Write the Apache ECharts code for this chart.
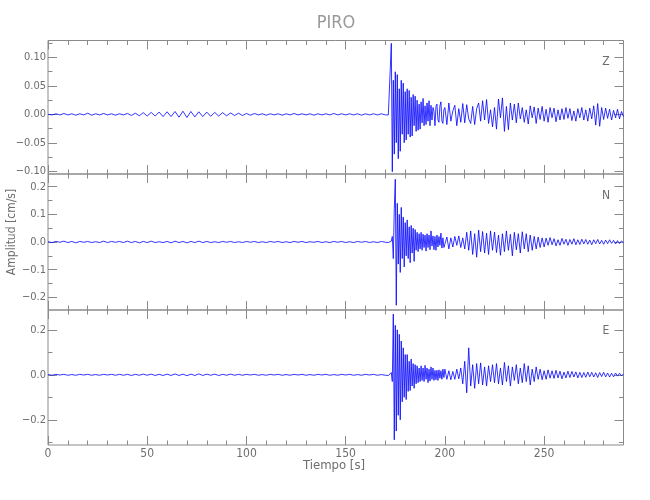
<!DOCTYPE html>
<html><head><meta charset="utf-8">
<script src="https://cdn.jsdelivr.net/npm/echarts@6/dist/echarts.min.js"></script>
<style>html,body{margin:0;padding:0;background:#fff}#c{width:650px;height:500px}</style>
</head><body><div id="c"></div><script>
// ---- data ----
const stationName = 'PIRO';
const channelNames = ['Z', 'N', 'E'];
// sampling grid: pre-event every 2 s (0..170), burst every 0.5 s (171..199.5), coda every 1 s (200..290)
const preStart = 0, preStep = 2, midStart = 171, midStep = 0.5, postStart = 200, postStep = 1;

const zPre = [
 0.000,-0.001,0.001,-0.001,0.0015,-0.001,0.001,-0.0015,0.001,-0.001,
 0.002,-0.0015,0.001,-0.001,0.0015,-0.001,0.001,-0.0015,0.001,-0.001,
 0.0015,-0.002,0.002,-0.0025,0.003,-0.003,0.0035,-0.003,0.004,-0.004,
 0.0045,-0.004,0.005,-0.005,0.0055,-0.0055,0.005,-0.0045,0.0045,-0.004,
 0.004,-0.0035,0.0035,-0.003,0.003,-0.0025,0.0025,-0.002,0.002,-0.002,
 0.0015,-0.0015,0.0015,-0.001,0.001,-0.0015,0.001,-0.001,0.001,-0.0015,
 0.001,-0.001,0.0015,-0.001,0.001,-0.001,0.001,-0.0015,0.001,-0.001,
 0.001,-0.001,0.0015,-0.001,0.001,-0.001,0.001,-0.001,0.001,-0.0015,
 0.001,-0.001,0.001,-0.001,0.001,-0.001
];
const zMid = [
 0.001,-0.001,0.002,-0.003,0.125,-0.101,0.06,-0.07,0.075,-0.05,
 0.07,-0.078,0.045,-0.065,0.06,-0.035,0.055,-0.05,0.04,-0.045,
 0.045,-0.035,0.042,-0.04,0.03,-0.038,0.035,-0.02,0.032,-0.03,
 0.025,-0.028,0.018,-0.026,0.022,-0.015,0.028,-0.02,0.015,-0.018,
 0.02,-0.012,0.024,-0.02,0.016,-0.01,0.012,0.005,-0.02,0.014,
 0.018,-0.01,-0.014,0.015,0.022,-0.012,-0.016,0.008
];
const zPost = [
 0.012,
 -0.018,0.02,-0.012,0.006,0.016,-0.02,0.01,-0.014,0.019,-0.015,
 0.017,-0.008,-0.016,0.014,-0.018,0.01,0.02,-0.012,0.024,-0.01,
 0.026,-0.016,0.008,-0.022,0.012,-0.026,0.027,-0.006,0.029,-0.03,
 0.014,-0.027,0.02,-0.01,0.018,-0.015,0.02,-0.008,0.012,-0.014,
 0.008,-0.017,0.015,-0.006,0.013,-0.016,0.011,-0.009,0.014,-0.012,
 0.009,-0.014,0.012,-0.006,0.011,-0.013,0.008,-0.01,0.01,-0.009,
 0.012,-0.007,0.01,-0.011,0.006,-0.012,0.01,-0.006,0.012,-0.01,
 0.008,-0.012,0.011,-0.008,0.015,-0.019,0.019,-0.021,0.012,-0.009,
 0.011,-0.007,0.009,-0.01,0.007,-0.006,0.009,-0.008,0.005,-0.004
];
const nPre = [
 0.001,-0.002,0.002,-0.001,0.003,-0.002,0.002,-0.003,0.002,-0.001,
 0.002,-0.002,0.001,-0.002,0.003,-0.002,0.002,-0.001,0.002,-0.002,
 0.003,-0.002,0.002,-0.003,0.002,-0.002,0.003,-0.002,0.001,-0.002,
 0.002,-0.003,0.003,-0.002,0.002,-0.003,0.002,-0.002,0.003,-0.002,
 0.002,-0.002,0.001,-0.002,0.002,-0.001,0.002,-0.002,0.001,-0.002,
 0.002,-0.001,0.002,-0.002,0.001,-0.002,0.002,-0.001,0.002,-0.002,
 0.001,-0.002,0.002,-0.001,0.002,-0.002,0.001,-0.001,0.002,-0.002,
 0.001,-0.002,0.002,-0.001,0.002,-0.002,0.001,-0.002,0.002,-0.001,
 0.002,-0.002,0.001,-0.002,0.002,-0.001
];
const nMid = [
 0.002,-0.002,0.001,-0.002,0.003,0.02,-0.06,0.12,0.227,-0.229,
 0.14,-0.08,0.1,-0.11,0.125,-0.06,0.09,-0.09,0.07,-0.05,
 0.08,-0.06,0.055,-0.075,0.06,-0.04,0.05,-0.07,0.045,-0.03,
 0.035,-0.035,0.03,-0.025,0.035,-0.03,0.028,-0.02,0.025,-0.033,
 0.03,-0.02,0.025,-0.028,0.04,-0.015,0.022,-0.028,0.02,-0.03,
 0.025,-0.018,0.02,-0.012,0.032,-0.022,0.015,-0.02
];
const nPost = [
 -0.022,
 0.018,-0.025,0.015,-0.018,0.02,-0.012,0.022,-0.02,0.015,-0.025,
 0.035,-0.03,0.04,-0.045,0.03,-0.055,0.043,-0.035,0.038,-0.04,
 0.032,-0.045,0.04,-0.03,0.036,-0.038,0.025,-0.048,0.03,-0.035,
 0.04,-0.03,0.028,-0.05,0.035,-0.028,0.03,-0.04,0.037,-0.025,
 0.03,-0.035,0.025,-0.03,0.02,-0.025,0.018,-0.02,0.015,-0.018,
 0.014,-0.012,0.016,-0.01,0.012,-0.014,0.008,-0.012,0.013,-0.008,
 0.01,-0.012,0.009,-0.008,0.012,-0.01,0.008,-0.009,0.01,-0.007,
 0.009,-0.008,0.007,-0.01,0.008,-0.006,0.009,-0.007,0.006,-0.008,
 0.007,-0.006,0.008,-0.005,0.006,-0.007,0.005,-0.006,0.004,-0.003
];
const ePre = [
 0.001,-0.002,0.002,-0.001,0.002,-0.002,0.001,-0.002,0.002,-0.001,
 0.002,-0.002,0.001,-0.002,0.002,-0.001,0.002,-0.002,0.002,-0.002,
 0.002,-0.003,0.002,-0.002,0.003,-0.002,0.003,-0.003,0.002,-0.003,
 0.003,-0.003,0.004,-0.003,0.003,-0.004,0.003,-0.003,0.004,-0.003,
 0.003,-0.002,0.003,-0.003,0.002,-0.002,0.003,-0.002,0.002,-0.002,
 0.002,-0.001,0.002,-0.002,0.001,-0.002,0.002,-0.001,0.002,-0.002,
 0.001,-0.002,0.002,-0.001,0.002,-0.002,0.001,-0.002,0.002,-0.001,
 0.002,-0.002,0.001,-0.002,0.002,-0.001,0.002,-0.002,0.001,-0.002,
 0.002,-0.001,0.002,-0.002,0.001,-0.002
];
const eMid = [
 0.002,-0.003,0.002,-0.004,0.01,-0.03,0.27,-0.289,0.22,-0.25,
 0.2,-0.18,0.18,-0.2,0.15,-0.12,0.12,-0.1,0.09,-0.11,
 0.09,-0.074,0.06,-0.07,0.07,-0.05,0.05,-0.06,0.045,-0.04,
 0.04,-0.035,0.03,-0.03,0.04,-0.025,0.03,-0.03,0.042,-0.02,
 0.03,-0.035,0.025,-0.028,0.035,-0.02,0.03,-0.025,0.02,-0.022,
 0.02,-0.025,0.022,-0.015,0.018,-0.02,0.025,-0.012
];
const ePost = [
 0.025,
 -0.02,0.018,-0.022,0.015,-0.02,0.025,-0.018,0.03,-0.04,0.06,
 -0.08,0.12,-0.05,0.045,-0.06,0.05,-0.04,0.053,-0.045,0.035,
 -0.05,0.04,-0.03,0.045,-0.035,0.05,-0.04,0.03,-0.045,0.055,
 -0.03,0.04,-0.05,0.035,-0.025,0.045,-0.04,0.03,-0.035,0.05,
 -0.03,0.04,-0.045,0.025,-0.03,0.035,-0.02,0.025,-0.022,0.018,
 -0.02,0.022,-0.015,0.018,-0.016,0.02,-0.014,0.016,-0.018,0.012,
 -0.014,0.016,-0.012,0.015,-0.01,0.013,-0.014,0.011,-0.012,0.01,
 -0.011,0.012,-0.009,0.011,-0.01,0.009,-0.012,0.01,-0.008,0.011,
 -0.009,0.008,-0.01,0.007,-0.009,0.008,-0.006,0.007,-0.005,0.004
];

// axis ranges and tick values
const xMin = 0, xMax = 290, xInterval = 50;
const yRanges = [[-0.105, 0.13], [-0.246, 0.246], [-0.312, 0.288]];
const zTicks = [0.10, 0.05, 0.00, -0.05, -0.10];
const zMinorTicks = [0.125, 0.075, 0.025, -0.025, -0.075];
const nTicks = [0.2, 0.1, 0.0, -0.1, -0.2];
const nMinorTicks = [0.15, 0.05, -0.05, -0.15];
const eTicks = [0.2, 0.0, -0.2];
const eMinorTicks = [0.1, -0.1, -0.3];
const tickDecimals = [2, 1, 1];

// ---- build ----
function toPairs(pre, mid, post) {
  const out = [];
  pre.forEach((v, i) => out.push([preStart + i * preStep, v]));
  mid.forEach((v, i) => out.push([midStart + i * midStep, v]));
  post.forEach((v, i) => out.push([postStart + i * postStep, v]));
  return out;
}
const traces = [toPairs(zPre, zMid, zPost), toPairs(nPre, nMid, nPost), toPairs(ePre, eMid, ePost)];
const majors = [zTicks, nTicks, eTicks];
const minors = [zMinorTicks, nMinorTicks, eMinorTicks];

const FONT = "'Liberation Sans Narrow','DejaVu Sans Condensed','Liberation Sans',sans-serif";
const GRAY = '#8a8a8a';
const TXT = '#6e6e6e';
const gridBoxes = [[40.5, 133.5], [174, 136], [310, 135]];

const grid = gridBoxes.map(b => ({
  left: 48, width: 575.5, top: b[0], height: b[1],
  show: true, borderColor: GRAY, borderWidth: 1, containLabel: false
}));

const xAxis = [], yAxis = [], series = [];
for (let g = 0; g < 3; g++) {
  ['bottom', 'top'].forEach(pos => {
    xAxis.push({
      type: 'value', gridIndex: g, position: pos, min: xMin, max: xMax, interval: xInterval,
      axisLine: { show: false, onZero: false },
      axisTick: { show: true, inside: true, length: 9, lineStyle: { color: GRAY } },
      minorTick: { show: true, splitNumber: 5, length: 4.5, lineStyle: { color: GRAY } },
      splitLine: { show: false }, minorSplitLine: { show: false },
      axisLabel: { show: pos === 'bottom' && g === 2, showMaxLabel: false, color: TXT, fontFamily: FONT, fontSize: 12, margin: 3 }
    });
  });
  const dec = tickDecimals[g];
  ['left', 'right'].forEach(pos => {
    yAxis.push({
      type: 'value', gridIndex: g, position: pos, min: yRanges[g][0], max: yRanges[g][1],
      axisLine: { show: false, onZero: false },
      axisTick: { show: true, inside: true, length: 9, customValues: majors[g], lineStyle: { color: GRAY } },
      splitLine: { show: false },
      axisLabel: {
        show: pos === 'left', customValues: majors[g], color: TXT, fontFamily: FONT, fontSize: 11, margin: 2,
        formatter: v => (Math.abs(v) < 1e-9 ? 0 : v).toFixed(dec).replace('-', '\u2212')
      }
    });
    yAxis.push({
      type: 'value', gridIndex: g, position: pos, min: yRanges[g][0], max: yRanges[g][1],
      axisLine: { show: false, onZero: false },
      axisTick: { show: true, inside: true, length: 4.5, customValues: minors[g], lineStyle: { color: GRAY } },
      splitLine: { show: false },
      axisLabel: { show: false }
    });
  });
  series.push({
    type: 'line', name: channelNames[g], xAxisIndex: g * 2, yAxisIndex: g * 4,
    data: traces[g], showSymbol: false, symbol: 'none', sampling: null,
    lineStyle: { color: '#0000ff', width: 0.8 }, clip: true, z: 1
  });
}

const labelPos = [[606, 61.5], [606, 196], [606, 331]];
const graphic = channelNames.map((c, i) => ({
  type: 'text', x: labelPos[i][0], y: labelPos[i][1],
  style: { text: c, fill: TXT, font: '12px ' + FONT, align: 'center', verticalAlign: 'middle' }
}));
graphic.push({
  type: 'text', x: 334, y: 466,
  style: { text: 'Tiempo [s]', fill: TXT, font: '13px ' + FONT, align: 'center', verticalAlign: 'middle' }
});
graphic.push({
  type: 'text', x: 12, y: 232, rotation: Math.PI / 2,
  style: { text: 'Amplitud [cm/s]', fill: TXT, font: '12px ' + FONT, align: 'center', verticalAlign: 'middle' }
});
graphic.push({
  type: 'text', x: 336, y: 23,
  style: { text: stationName, fill: '#999999', font: '18px ' + FONT, align: 'center', verticalAlign: 'middle' }
});

const chart = echarts.init(document.getElementById('c'), null, { renderer: 'canvas' });
chart.setOption({
  animation: false, backgroundColor: '#ffffff',
  grid, xAxis, yAxis, series, graphic
});
</script></body></html>
